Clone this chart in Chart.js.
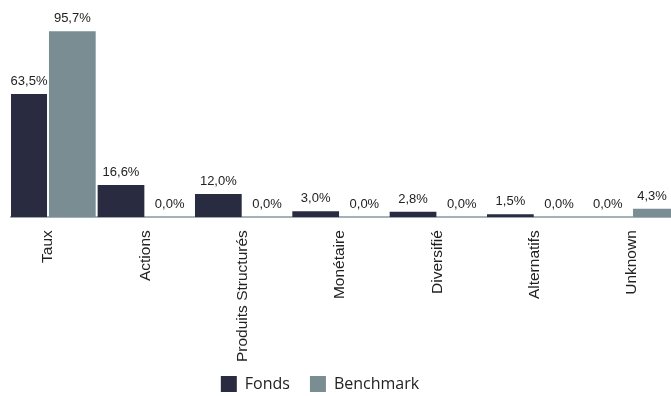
<!DOCTYPE html>
<html>
<head>
<meta charset="utf-8">
<script src="https://cdn.jsdelivr.net/npm/chart.js@4"></script>
<style>
  html, body { margin: 0; padding: 0; background: #fff; }
  #wrap { width: 671px; height: 396px; }
</style>
</head>
<body>
<div id="wrap"><canvas id="c" width="671" height="396"></canvas></div>
<script>
const categories = ['Taux', 'Actions', 'Produits Structurés', 'Monétaire', 'Diversifié', 'Alternatifs', 'Unknown'];
const fondsValues = [63.5, 16.6, 12.0, 3.0, 2.8, 1.5, 0.0];
const benchmarkValues = [95.7, 0.0, 0.0, 0.0, 0.0, 0.0, 4.3];
const seriesNames = ['Fonds', 'Benchmark'];

const fmt = v => v.toFixed(1).replace('.', ',') + '%';

const labelPlugin = {
  id: 'barLabels',
  afterLayout(chart) {
    if (chart.legend) {
      chart.legend.left -= 21;
      chart.legend.right -= 21;
      chart.legend.top -= 11;
      chart.legend.bottom -= 11;
    }
  },
  afterDatasetsDraw(chart) {
    const ctx = chart.ctx;
    const area = chart.chartArea;
    ctx.save();
    ctx.font = '13px "Liberation Sans", Arial, sans-serif';
    ctx.fillStyle = '#222';
    ctx.textAlign = 'center';
    ctx.textBaseline = 'bottom';
    chart.data.datasets.forEach((ds, di) => {
      const meta = chart.getDatasetMeta(di);
      meta.data.forEach((bar, i) => {
        const p = bar.getProps(['x', 'y', 'width'], true);
        const l = Math.max(p.x - p.width / 2, area.left);
        const r = Math.min(p.x + p.width / 2, area.right);
        const cx = (l + r) / 2;
        ctx.fillText(fmt(ds.data[i].y), cx, p.y - 6);
      });
    });
    ctx.restore();
  }
};

new Chart(document.getElementById('c'), {
  type: 'bar',
  data: {
    datasets: [
      {
        label: seriesNames[0],
        data: fondsValues.map((v, i) => ({ x: i, y: v })),
        backgroundColor: '#292c40',
        categoryPercentage: 1.0,
        barPercentage: 0.96
      },
      {
        label: seriesNames[1],
        data: benchmarkValues.map((v, i) => ({ x: i, y: v })),
        backgroundColor: '#798d92',
        categoryPercentage: 1.0,
        barPercentage: 0.96
      }
    ]
  },
  options: {
    responsive: false,
    animation: false,
    devicePixelRatio: 1,
    layout: { padding: { left: 11, right: 0, top: 23, bottom: -17 } },
    scales: {
      x: {
        type: 'linear',
        offset: false,
        min: -0.38,
        max: 6.40,
        afterBuildTicks(scale) {
          scale.ticks = categories.map((_, i) => ({ value: i }));
        },
        grid: { display: false },
        border: { display: true, color: '#a3b3b9', width: 2 },
        ticks: {
          autoSkip: false,
          minRotation: 90,
          maxRotation: 90,
          color: '#222',
          padding: 5,
          font: { family: '"Liberation Sans", Arial, sans-serif', size: 15.5 },
          callback: (v) => categories[v] ?? ''
        }
      },
      y: {
        display: false,
        min: 0,
        max: 100
      }
    },
    plugins: {
      legend: {
        position: 'bottom',
        labels: {
          boxWidth: 16,
          boxHeight: 16,
          padding: 20,
          color: '#222',
          font: { family: '"Open Sans", sans-serif', size: 16 }
        }
      },
      tooltip: { enabled: false }
    }
  },
  plugins: [labelPlugin]
});
</script>
</body>
</html>
